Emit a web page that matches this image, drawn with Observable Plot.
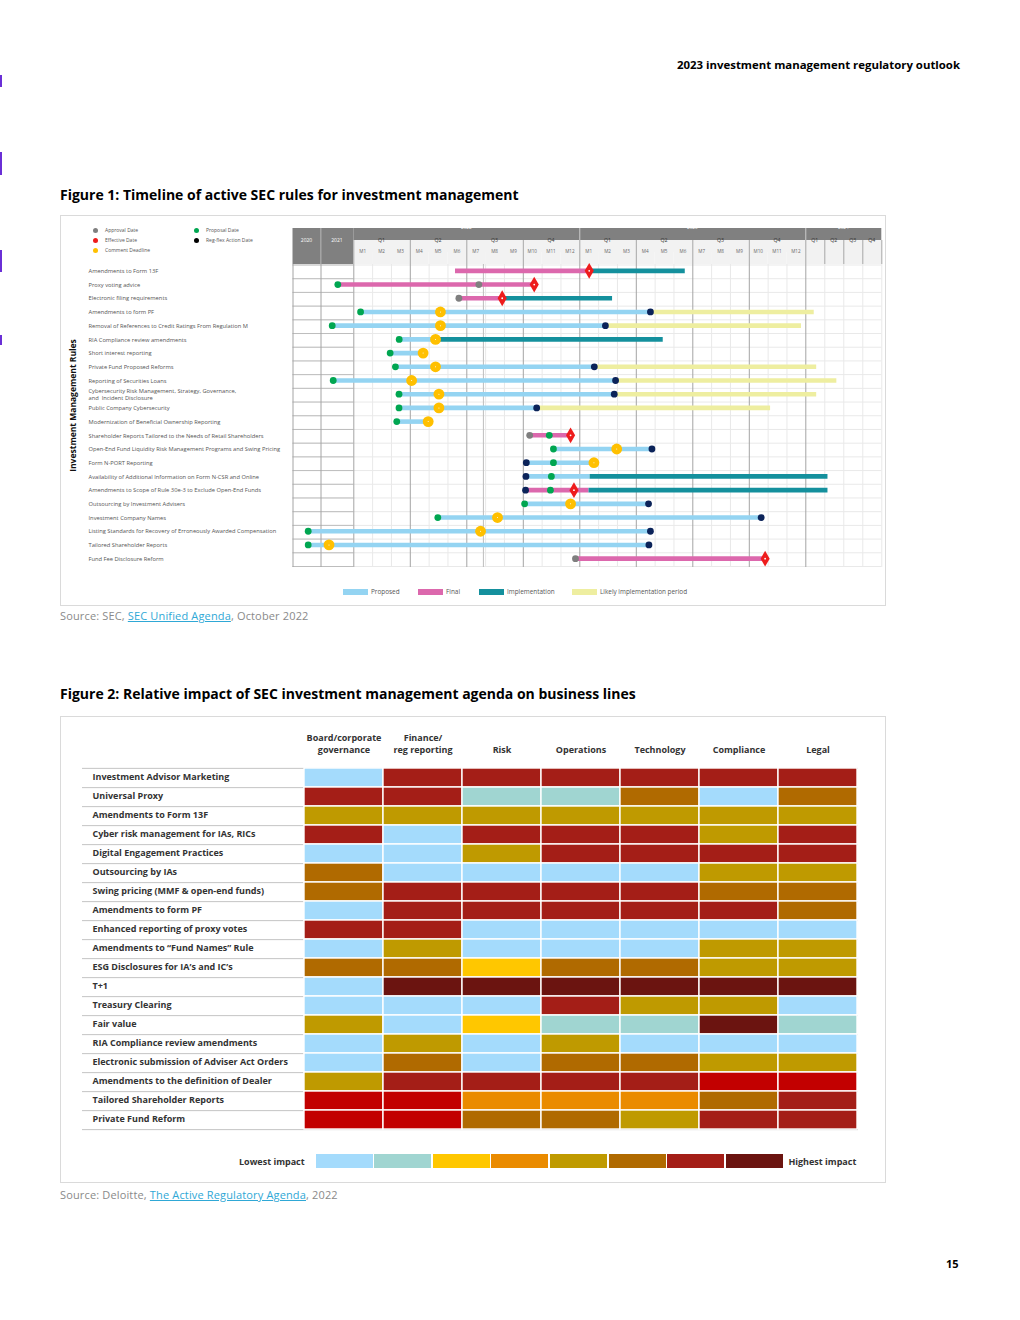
<!DOCTYPE html>
<html><head><meta charset="utf-8">
<script src="https://cdn.jsdelivr.net/npm/d3@7"></script>
<script src="https://cdn.jsdelivr.net/npm/@observablehq/plot@0.6"></script>
<style>
  html,body{margin:0;padding:0;background:#fff;}
  body{width:1020px;height:1320px;position:relative;font-family:"Open Sans",sans-serif;color:#000;overflow:hidden;}
  .abs{position:absolute;}
  .frame{position:absolute;border:1px solid #dadada;box-sizing:border-box;}
  .title{position:absolute;left:60px;font-weight:700;font-size:14px;line-height:18px;white-space:nowrap;}
  .source{position:absolute;left:60px;font-size:11px;letter-spacing:0.15px;line-height:14px;color:#8a8a8a;white-space:nowrap;}
  .source a{color:#2fa8d6;text-decoration:underline;}
  .mark{position:absolute;left:0;width:2px;background:#6a2fd6;}
  #mlegend{display:grid;grid-auto-flow:column;grid-template-rows:repeat(3,10px);grid-template-columns:101px 101px;font-size:5px;color:#555;}
  #mlegend div{display:flex;align-items:center;white-space:nowrap;}
  #mlegend span.sym{display:inline-block;width:5px;height:5px;border-radius:50%;margin-right:7.5px;}
  #plegend{display:flex;align-items:center;font-size:6.4px;color:#555;}
  #plegend div{display:flex;align-items:center;white-space:nowrap;}
  #plegend span.sw{display:inline-block;width:25px;height:6px;margin-right:3px;}
  #ilegend{display:flex;align-items:center;font-size:9px;font-weight:700;color:#333;}
  #ilegend span.sw{display:inline-block;width:57px;height:14px;margin-right:1.6px;}
</style></head>
<body>
<div class="mark" style="top:75px;height:12px"></div>
<div class="mark" style="top:152px;height:23px"></div>
<div class="mark" style="top:250px;height:22px"></div>
<div class="mark" style="top:335px;height:10px"></div>

<div class="abs" style="right:60px;top:57px;font-weight:700;font-size:11.4px;line-height:15px;">2023 investment management regulatory outlook</div>

<div class="title" style="top:186px">Figure 1: Timeline of active SEC rules for investment management</div>
<div class="frame" style="left:60px;top:215px;width:826px;height:391px"></div>
<div id="mlegend" class="abs" style="left:92.5px;top:225px"></div>
<div id="fig1head" class="abs" style="left:60px;top:228px"></div>
<div id="fig1body" class="abs" style="left:60px;top:264px"></div>
<div id="plegend" class="abs" style="left:343px;top:587px"></div>
<div class="source" style="top:609px">Source: SEC, <a>SEC Unified Agenda</a>, October 2022</div>

<div class="title" style="top:685px">Figure 2: Relative impact of SEC investment management agenda on business lines</div>
<div class="frame" style="left:60px;top:716px;width:826px;height:467px"></div>
<div id="fig2" class="abs" style="left:60px;top:725px"></div>
<div id="ilegend" class="abs" style="left:239px;top:1154px"></div>
<div class="source" style="top:1188px">Source: Deloitte, <a>The Active Regulatory Agenda</a>, 2022</div>

<div class="abs" style="left:946px;top:1256px;font-weight:700;font-size:11px;line-height:15px;">15</div>

<script>
// ================= DATA: Figure 1 =================
const years = ["2020", "2021", "2022", "2023", "2024"];
const quarters = ["Q1", "Q2", "Q3", "Q4"];
const months = ["M1","M2","M3","M4","M5","M6","M7","M8","M9","M10","M11","M12"];

const rules = [
  "Amendments to Form 13F",
  "Proxy voting advice",
  "Electronic filing requirements",
  "Amendments to form PF",
  "Removal of References to Credit Ratings From Regulation M",
  "RIA Compliance review amendments",
  "Short interest reporting",
  "Private Fund Proposed Reforms",
  "Reporting of Securities Loans",
  "Cybersecurity Risk Management, Strategy, Governance,\nand  Incident Disclosure",
  "Public Company Cybersecurity",
  "Modernization of Beneficial Ownership Reporting",
  "Shareholder Reports Tailored to the Needs of Retail Shareholders",
  "Open-End Fund Liquidity Risk Management Programs and Swing Pricing",
  "Form N-PORT Reporting",
  "Availability of Additional Information on Form N-CSR and Online",
  "Amendments to Scope of Rule 30e-3 to Exclude Open-End Funds",
  "Outsourcing by Investment Advisers",
  "Investment Company Names",
  "Listing Standards for Recovery of Erroneously Awarded Compensation",
  "Tailored Shareholder Reports",
  "Fund Fee Disclosure Reform"
];

const phases = ["Proposed", "Final", "Implementation", "Likely implementation period"];
const phaseColors = ["#94d4f2", "#dc68ad", "#14909d", "#eeeea0"];
const phaseLegendWidths = [75, 61, 93, 120];

// [row, phase, start month, end month]; months counted from Jan 2022 (2020 = -24..-12, 2021 = -12..0)
const segments = [
  [0, "Final", 5.4, 12.5], [0, "Implementation", 12.5, 17.6],
  [1, "Final", -5.85, 9.58],
  [2, "Final", 5.58, 7.88], [2, "Implementation", 7.88, 13.74],
  [3, "Proposed", 0.36, 15.75], [3, "Likely implementation period", 15.75, 25.33],
  [4, "Proposed", -7.9, 13.36], [4, "Likely implementation period", 13.36, 23.77],
  [5, "Proposed", 2.41, 4.34], [5, "Implementation", 4.34, 16.43],
  [6, "Proposed", 1.93, 3.68],
  [7, "Proposed", 2.21, 12.77], [7, "Likely implementation period", 12.77, 25.72],
  [8, "Proposed", -7.53, 13.9], [8, "Likely implementation period", 13.9, 28.9],
  [9, "Proposed", 2.4, 13.83], [9, "Likely implementation period", 13.83, 25.72],
  [10, "Proposed", 2.4, 9.71], [10, "Likely implementation period", 9.71, 22.13],
  [11, "Proposed", 2.28, 3.95],
  [12, "Final", 9.34, 11.51],
  [13, "Proposed", 10.6, 15.83],
  [14, "Proposed", 9.16, 12.75],
  [15, "Proposed", 9.14, 12.55], [15, "Implementation", 12.55, 27.5],
  [16, "Final", 9.12, 12.49], [16, "Implementation", 12.49, 27.5],
  [17, "Proposed", 9.07, 15.65],
  [18, "Proposed", 4.46, 21.63],
  [19, "Proposed", -17.49, 15.75],
  [20, "Proposed", -17.49, 15.67],
  [21, "Final", 11.77, 21.84]
];

const eventTypes = ["Approval Date", "Effective Date", "Comment Deadline", "Proposal Date", "Reg-flex Action Date"];
const eventColors = ["#7f7f7f", "#ee1c1c", "#ffc000", "#00a651", "#0b2359"];

// [row, event type, month]
const events = [
  [0, "Effective Date", 12.5],
  [1, "Proposal Date", -5.85], [1, "Approval Date", 6.64], [1, "Effective Date", 9.58],
  [2, "Approval Date", 5.58], [2, "Effective Date", 7.88],
  [3, "Proposal Date", 0.36], [3, "Comment Deadline", 4.6], [3, "Reg-flex Action Date", 15.75],
  [4, "Proposal Date", -7.9], [4, "Comment Deadline", 4.6], [4, "Reg-flex Action Date", 13.36],
  [5, "Proposal Date", 2.41], [5, "Comment Deadline", 4.34],
  [6, "Proposal Date", 1.93], [6, "Comment Deadline", 3.68],
  [7, "Proposal Date", 2.21], [7, "Comment Deadline", 4.34], [7, "Reg-flex Action Date", 12.77],
  [8, "Proposal Date", -7.53], [8, "Comment Deadline", 3.07], [8, "Reg-flex Action Date", 13.9],
  [9, "Proposal Date", 2.4], [9, "Comment Deadline", 4.52], [9, "Reg-flex Action Date", 13.83],
  [10, "Proposal Date", 2.4], [10, "Comment Deadline", 4.52], [10, "Reg-flex Action Date", 9.71],
  [11, "Proposal Date", 2.28], [11, "Comment Deadline", 3.95],
  [12, "Approval Date", 9.34], [12, "Proposal Date", 10.38], [12, "Effective Date", 11.51],
  [13, "Proposal Date", 10.6], [13, "Comment Deadline", 13.96], [13, "Reg-flex Action Date", 15.83],
  [14, "Reg-flex Action Date", 9.16], [14, "Proposal Date", 10.6], [14, "Comment Deadline", 12.75],
  [15, "Reg-flex Action Date", 9.14], [15, "Proposal Date", 10.49],
  [16, "Reg-flex Action Date", 9.12], [16, "Proposal Date", 10.44], [16, "Effective Date", 11.69],
  [17, "Proposal Date", 9.07], [17, "Comment Deadline", 11.51], [17, "Reg-flex Action Date", 15.65],
  [18, "Proposal Date", 4.46], [18, "Comment Deadline", 7.63], [18, "Reg-flex Action Date", 21.63],
  [19, "Proposal Date", -17.49], [19, "Comment Deadline", 6.73], [19, "Reg-flex Action Date", 15.75],
  [20, "Proposal Date", -17.49], [20, "Comment Deadline", -9.07], [20, "Reg-flex Action Date", 15.67],
  [21, "Approval Date", 11.77], [21, "Effective Date", 21.84]
];

// ================= DATA: Figure 2 =================
const businessLines = ["Board/corporate\ngovernance", "Finance/\nreg reporting", "Risk", "Operations", "Technology", "Compliance", "Legal"];
const agendaItems = [
  "Investment Advisor Marketing",
  "Universal Proxy",
  "Amendments to Form 13F",
  "Cyber risk management for IAs, RICs",
  "Digital Engagement Practices",
  "Outsourcing by IAs",
  "Swing pricing (MMF & open-end funds)",
  "Amendments to form PF",
  "Enhanced reporting of proxy votes",
  "Amendments to \u201cFund Names\u201d Rule",
  "ESG Disclosures for IA\u2019s and IC\u2019s",
  "T+1",
  "Treasury Clearing",
  "Fair value",
  "RIA Compliance review amendments",
  "Electronic submission of Adviser Act Orders",
  "Amendments to the definition of Dealer",
  "Tailored Shareholder Reports",
  "Private Fund Reform"
];
// impact level per business line (1 = lowest ... 8 = highest, 9 = bright red highlight)
const impactLevels = [
  [1, 7, 7, 7, 7, 7, 7],
  [7, 7, 2, 2, 6, 1, 6],
  [5, 5, 5, 5, 5, 5, 5],
  [7, 1, 7, 7, 7, 5, 7],
  [1, 1, 5, 7, 7, 7, 7],
  [6, 1, 1, 1, 1, 5, 5],
  [6, 7, 7, 7, 7, 6, 6],
  [1, 7, 7, 7, 7, 7, 6],
  [7, 7, 1, 1, 1, 1, 1],
  [1, 5, 1, 1, 1, 5, 5],
  [6, 6, 3, 6, 6, 5, 5],
  [1, 8, 8, 8, 8, 8, 8],
  [1, 1, 1, 7, 5, 5, 1],
  [5, 1, 3, 2, 2, 8, 2],
  [1, 5, 1, 5, 1, 1, 1],
  [1, 6, 1, 6, 6, 5, 5],
  [5, 7, 7, 7, 7, 9, 9],
  [9, 9, 4, 4, 4, 6, 7],
  [9, 9, 6, 6, 5, 7, 7]
];
const impactDomain = [1, 2, 3, 4, 5, 6, 7, 8, 9];
const impactColors = ["#a4dbfc", "#a0d5d1", "#ffc700", "#ea8b00", "#bf9a00", "#b06a00", "#a41e17", "#6b1410", "#c20000"];
const legendLow = "Lowest impact", legendHigh = "Highest impact";

// ================= FIGURE 1 =================
const FONT = '"Open Sans", sans-serif';
const W1 = 825;
const dark = "#808080", light = "#f2f2f2";
const xScale = {type: "linear", domain: [-24, -12, 0, 24, 36], range: [232.5, 260.5, 293.3, 745.3, 821.3]};
const chartStart = -24, chartEnd = 36;

// header
const bands = ["year", "quarter", "month"];
const headCells = [], headText = [], headTicks = [];
years.forEach((yr, i) => {
  const start = (i - 2) * 12, end = start + 12;
  if (i < 2) {
    bands.forEach(b => headCells.push({band: b, start, end, fill: dark}));
    headText.push({band: "quarter", x: (start + end) / 2, text: yr, fill: "#fff", dy: 0, size: 5, weight: 700});
  } else {
    headCells.push({band: "year", start, end, fill: dark});
    headText.push({band: "year", x: (start + end) / 2, text: yr, fill: "#fff", dy: 0, size: 4.6, weight: 700});
  }
  if (i >= 2 && i < 4) {
    quarters.forEach((q, qi) => {
      const s = start + qi * 3;
      headCells.push({band: "quarter", start: s, end: s + 3, fill: light});
      headText.push({band: "quarter", x: s + 1.5, text: q, fill: "#333", dy: 0, size: 5.2, weight: 700});
      headTicks.push({x: s, band: "quarter", stroke: "#a6a6a6"}, {x: s, band: "month", stroke: "#a6a6a6"});
    });
    months.forEach((m, mi) => {
      const s = start + mi;
      headCells.push({band: "month", start: s, end: s + 1, fill: light});
      headText.push({band: "month", x: s + 0.5, text: m, fill: "#666", dy: 0, size: 4.6, weight: 400});
    });
  }
  if (i === 4) {
    quarters.forEach((q, qi) => {
      const s = start + qi * 3;
      ["quarter", "month"].forEach(b => headCells.push({band: b, start: s, end: s + 3, fill: light}));
      headText.push({band: "quarter", x: s + 1.5, text: q, fill: "#333", dy: 6, size: 5.2, weight: 700});
      headTicks.push({x: s, band: "quarter", stroke: "#a6a6a6"}, {x: s, band: "month", stroke: "#a6a6a6"});
    });
  }
  if (i >= 3) headTicks.push({x: start, band: "year", stroke: "#c4c4c4"});
});
bands.forEach(b => headTicks.push({x: -12, band: b, stroke: "#a8a8a8"}));
headTicks.push({x: chartEnd, band: "quarter", stroke: "#a6a6a6"}, {x: chartEnd, band: "month", stroke: "#a6a6a6"});

const head = Plot.plot({
  width: W1, height: 36, marginTop: 0, marginBottom: 0, marginLeft: 0, marginRight: 0,
  style: {fontFamily: FONT, background: "transparent", overflow: "visible"},
  x: {...xScale, axis: null},
  y: {type: "band", domain: bands, padding: 0, axis: null},
  marks: [
    Plot.barX(headCells, {x1: "start", x2: "end", y: "band", fill: "fill", inset: 0}),
    Plot.tickX(headTicks, {x: "x", y: "band", stroke: "stroke", strokeWidth: 1}),
    Plot.text(headText, {x: "x", y: "band", text: "text", fill: "fill", dy: "dy", fontSize: d => d.size, fontWeight: d => d.weight})
  ]
});
document.getElementById("fig1head").appendChild(head);

// body
const majorX = [chartStart, -12, ...d3.range(0, 25, 3)];
const minorX = [...d3.range(1, 24).filter(m => m % 3 !== 0), 27, 30, 33, chartEnd];
const segData = segments.map(([row, phase, start, end]) => ({row, phase, start, end}));
const evData = events.map(([row, type, x]) => ({row, type, x}));
const evOf = t => evData.filter(d => d.type === t);
const colorOfEvent = t => eventColors[eventTypes.indexOf(t)];
const BH = 302;

const body = Plot.plot({
  width: W1, height: BH + 1, marginTop: 0, marginBottom: 0, marginLeft: 24.5, marginRight: W1 - 821.3,
  style: {fontFamily: FONT, background: "transparent", overflow: "visible"},
  x: {...xScale, axis: null},
  y: {domain: [0, rules.length], range: [0.5, BH], axis: null},
  marks: [
    Plot.ruleX(minorX, {stroke: "#e9e9e9", strokeWidth: 1}),
    Plot.ruleY(d3.range(0, rules.length + 1), {y: d => d, x1: chartStart, x2: chartEnd, stroke: "#e9e9e9"}),
    Plot.ruleY(d3.range(0, rules.length + 1), {y: d => d, x2: chartStart, stroke: "#bdbdbd"}),
    Plot.ruleX([0], {frameAnchor: "left", x: null, stroke: "#bdbdbd"}),
    Plot.ruleX(majorX, {stroke: "#a4a4a4", strokeWidth: 1}),
    Plot.ruleY(segData, {y: d => d.row + 0.5, x1: "start", x2: "end", stroke: d => phaseColors[phases.indexOf(d.phase)], strokeWidth: 4.6, dy: -1}),
    Plot.dot(evOf("Comment Deadline"), {x: "x", y: d => d.row + 0.5, r: 5.4, fill: colorOfEvent("Comment Deadline"), dy: -1}),
    Plot.dot(evOf("Comment Deadline"), {x: "x", y: d => d.row + 0.5, r: 0.5, fill: "#fff", dy: -1}),
    Plot.dot(evOf("Proposal Date"), {x: "x", y: d => d.row + 0.5, r: 3.4, fill: colorOfEvent("Proposal Date"), dy: -1}),
    Plot.dot(evOf("Approval Date"), {x: "x", y: d => d.row + 0.5, r: 3.4, fill: colorOfEvent("Approval Date"), dy: -1}),
    Plot.dot(evOf("Reg-flex Action Date"), {x: "x", y: d => d.row + 0.5, r: 3.4, fill: colorOfEvent("Reg-flex Action Date"), dy: -1}),
    Plot.dot(evOf("Effective Date"), {x: "x", y: d => d.row + 0.5, r: 4.8, symbol: "diamond", fill: colorOfEvent("Effective Date"), dy: -1}),
    Plot.dot(evOf("Effective Date"), {x: "x", y: d => d.row + 0.5, r: 0.9, fill: "#fff", dy: -1}),
    Plot.text(rules, {y: (d, i) => i + 0.5, text: d => d, frameAnchor: "left", textAnchor: "start", dx: 3.5, dy: -1, fontSize: 5.75, fill: "#555", lineHeight: 1.2}),
    Plot.text(["Investment Management Rules"], {frameAnchor: "left", textAnchor: "middle", rotate: -90, dx: -11.5, dy: -10.5, fontSize: 8.5, fontWeight: 700, fill: "#111"})
  ]
});
document.getElementById("fig1body").appendChild(body);

// marker legend (HTML)
const ml = document.getElementById("mlegend");
["Approval Date", "Effective Date", "Comment Deadline", "Proposal Date", "Reg-flex Action Date"].forEach(t => {
  const d = document.createElement("div");
  const c = t === "Reg-flex Action Date" ? "#000" : colorOfEvent(t);
  d.innerHTML = `<span class="sym" style="background:${c}"></span>${t}`;
  ml.appendChild(d);
});
// phase legend
const pl = document.getElementById("plegend");
phases.forEach((p, i) => {
  const d = document.createElement("div");
  d.style.width = phaseLegendWidths[i] + "px";
  d.innerHTML = `<span class="sw" style="background:${phaseColors[i]}"></span>${p}`;
  pl.appendChild(d);
});

// ================= FIGURE 2 =================
const W2 = 825, top2 = 40, rowsH = 366, H2 = top2 + rowsH + 5;
const bw = rowsH / agendaItems.length;
const cells = [];
agendaItems.forEach((item, r) => businessLines.forEach((bl, c) => cells.push({item, bl, level: impactLevels[r][c]})));

const fig2 = Plot.plot({
  width: W2, height: H2, marginTop: top2, marginBottom: H2 - top2 - rowsH, marginLeft: 22, marginRight: W2 - 798,
  style: {fontFamily: FONT, background: "transparent", overflow: "visible"},
  x: {type: "band", domain: businessLines, range: [242, 798], padding: 0, axis: null},
  y: {type: "band", domain: agendaItems, padding: 0, axis: null},
  color: {type: "ordinal", domain: impactDomain, range: impactColors},
  marks: [
    Plot.ruleY(agendaItems, {y: d => d, dy: bw / 2, stroke: "#c4c4c4", strokeWidth: 1}),
    Plot.ruleY(agendaItems.slice(0, 1), {y: d => d, dy: -bw / 2, stroke: "#c4c4c4", strokeWidth: 1}),
    Plot.cell(cells, {x: "bl", y: "item", fill: "level", stroke: "#fff", strokeWidth: 1.4}),
    Plot.axisX({anchor: "top", tickSize: 0, tickPadding: 13, fontSize: 9, fontWeight: 700, fill: "#333", lineHeight: 1.3, label: null}),
    Plot.text(agendaItems, {y: d => d, text: d => d, frameAnchor: "left", textAnchor: "start", dx: 10, dy: -1, fontSize: 9, fontWeight: 700, fill: "#333"})
  ]
});
document.getElementById("fig2").appendChild(fig2);

// impact legend
const il = document.getElementById("ilegend");
let html = `<span style="margin-right:11px">${legendLow}</span>`;
impactColors.slice(0, 8).forEach(c => html += `<span class="sw" style="background:${c}"></span>`);
html += `<span style="margin-left:4px">${legendHigh}</span>`;
il.innerHTML = html;
</script>
</body></html>
